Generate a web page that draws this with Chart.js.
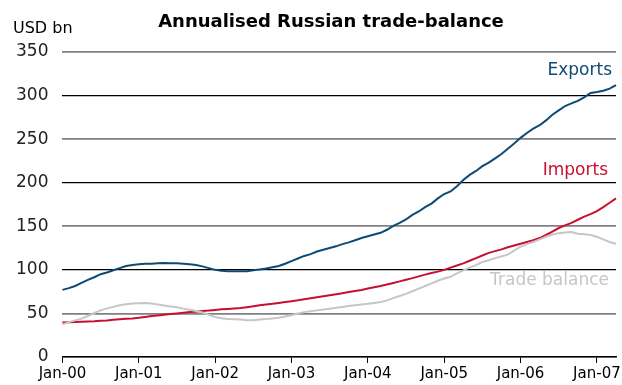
<!DOCTYPE html>
<html lang="en">
<head>
<meta charset="UTF-8">
<title>Annualised Russian trade-balance</title>
<script src="https://cdn.jsdelivr.net/npm/chart.js"></script>
<style>
    body { margin: 0; background: #fff; }
    #wrap { width: 622px; height: 385px; position: relative; }
</style>
</head>
<body>
<div id="wrap"><canvas id="tradeChart"></canvas></div>
<script>
    // month axis: Jan-00 .. Apr-07
    const monthNames = ['Jan', 'Feb', 'Mar', 'Apr', 'May', 'Jun', 'Jul', 'Aug', 'Sep', 'Oct', 'Nov', 'Dec'];
    const yearLabels = ['00', '01', '02', '03', '04', '05', '06', '07'];

    // USD bn, annualised
    const exportsData = [
        77, 79, 81.5, 85, 88.5, 91.5, 95, 97, 99.5, 102, 104.5, 105.5,
        106.5, 107, 107, 107.5, 108, 107.5, 107.5, 107, 106.5, 105.5, 104, 102,
        100, 99, 98.5, 98.5, 98.5, 98.5, 99.5, 100.5, 101.5, 103, 104.5, 107,
        110, 113, 116, 118, 121, 123, 125, 127, 129.5, 131.5, 134, 136.5,
        138.5, 140.5, 142.5, 146, 150.5, 154, 158, 163, 167, 172, 176, 182,
        187, 190, 196, 203, 209, 213.5, 219, 223, 228, 233, 239, 245,
        251.5, 257, 262, 266, 271.5, 278, 283, 288, 291, 294, 298, 303,
        304, 305.5, 308, 312
    ];
    const importsData = [
        39.5, 40, 40.3, 40.5, 40.8, 41, 41.5, 42, 42.8, 43.3, 43.8, 44.2,
        45, 46, 47, 47.7, 48.5, 49.3, 50, 50.8, 51.5, 52, 52.8, 53.3,
        54, 54.7, 55.2, 55.7, 56.3, 57.2, 58.2, 59.3, 60.2, 61, 62, 63,
        64, 65, 66.2, 67.3, 68.5, 69.6, 70.8, 72, 73.2, 74.5, 75.7, 77,
        78.5, 80, 81.5, 83.2, 85, 86.8, 88.7, 90.5, 92.5, 94.5, 96.3, 98,
        100, 102.5, 105, 107.5, 110.5, 113.5, 116.5, 119.5, 121.5, 123.5, 126, 128,
        130, 132, 134, 136.5, 140, 144, 148, 151, 154, 157.5, 161, 164,
        167.5, 172, 177, 182
    ];
    const balanceData = [
        37.5, 40, 42, 44, 47, 50.5, 53.5, 55.8, 57.5, 59.3, 60.5, 61.3,
        61.8, 62, 61.3, 60.3, 59.2, 58, 57, 55.5, 54.2, 52.8, 51, 48.5,
        46, 44.5, 43.5, 43.3, 43, 42.3, 42.3, 43, 43.5, 44.3, 45, 46.5,
        48, 50, 51.5, 52.5, 53.5, 54.5, 55.5, 56.5, 57.5, 58.5, 59.5, 60.3,
        61, 62, 63, 65, 67.5, 70, 72.5, 75.5, 78.5, 81.5, 84.5, 87.5,
        90, 92, 96, 99.5, 102.5, 105.5, 109, 111, 113.5, 115.5, 117.5, 122,
        126.5, 129.5, 132, 135, 138, 140.5, 142, 143, 143.5, 141.5, 141, 140,
        138, 135, 132, 130
    ];

    const labels = [];
    yearLabels.forEach(y => monthNames.forEach(m => labels.push(m + '-' + y)));
    labels.length = exportsData.length;

    const blue = '#0d4a75';
    const red = '#c8102e';
    const grey = '#c6c6c6';

    // title, unit and series names
    const textPlugin = {
        id: 'texts',
        afterDraw(chart) {
            const c = chart.ctx;
            c.save();
            c.textBaseline = 'middle';
            c.fillStyle = '#000';
            c.font = 'bold 18px "DejaVu Sans"';
            c.textAlign = 'center';
            c.fillText('Annualised Russian trade-balance', 331, 22);
            c.font = '16px "DejaVu Sans"';
            c.textAlign = 'left';
            c.fillText('USD bn', 13, 29);
            c.font = '17px "DejaVu Sans"';
            c.textAlign = 'right';
            c.fillStyle = blue;
            c.fillText('Exports', 612, 71);
            c.fillStyle = red;
            c.fillText('Imports', 608, 171);
            c.fillStyle = grey;
            c.fillText('Trade balance', 609, 281);
            c.restore();
        }
    };

    const ctx = document.getElementById('tradeChart').getContext('2d');
    const chart = new Chart(ctx, {
        type: 'line',
        data: {
            labels: labels,
            datasets: [
                { label: 'Trade balance', data: balanceData, borderColor: grey, borderWidth: 2 },
                { label: 'Imports', data: importsData, borderColor: red, borderWidth: 2 },
                { label: 'Exports', data: exportsData, borderColor: blue, borderWidth: 2 }
            ]
        },
        options: {
            responsive: true,
            maintainAspectRatio: false,
            animation: false,
            elements: { point: { radius: 0 }, line: { tension: 0 } },
            layout: { padding: { top: 52, right: 6, left: 2, bottom: 0 } },
            plugins: {
                legend: { display: false },
                tooltip: { enabled: false }
            },
            scales: {
                x: {
                    ticks: {
                        autoSkip: false,
                        maxRotation: 0,
                        color: '#000',
                        font: { family: 'DejaVu Sans', size: 15 },
                        padding: 2,
                        callback: (v, i) => i % 12 === 0 ? labels[i] : ''
                    },
                    grid: {
                        drawOnChartArea: false,
                        drawTicks: true,
                        tickLength: 6,
                        tickColor: c => c.index % 12 === 0 ? '#000' : 'rgba(0,0,0,0)'
                    },
                    border: { display: true, color: '#000', width: 1.5 }
                },
                y: {
                    min: 0,
                    max: 350,
                    ticks: {
                        stepSize: 50,
                        color: '#222',
                        font: { family: 'DejaVu Sans', size: 17 },
                        padding: 14
                    },
                    grid: {
                        drawTicks: false,
                        color: c => (c.tick && c.tick.value % 100 === 50) ? '#808080' : '#000',
                        lineWidth: c => (c.tick && c.tick.value % 100 === 50) ? 1.8 : 1.2
                    },
                    border: { display: false }
                }
            }
        },
        plugins: [textPlugin]
    });
</script>
</body>
</html>
